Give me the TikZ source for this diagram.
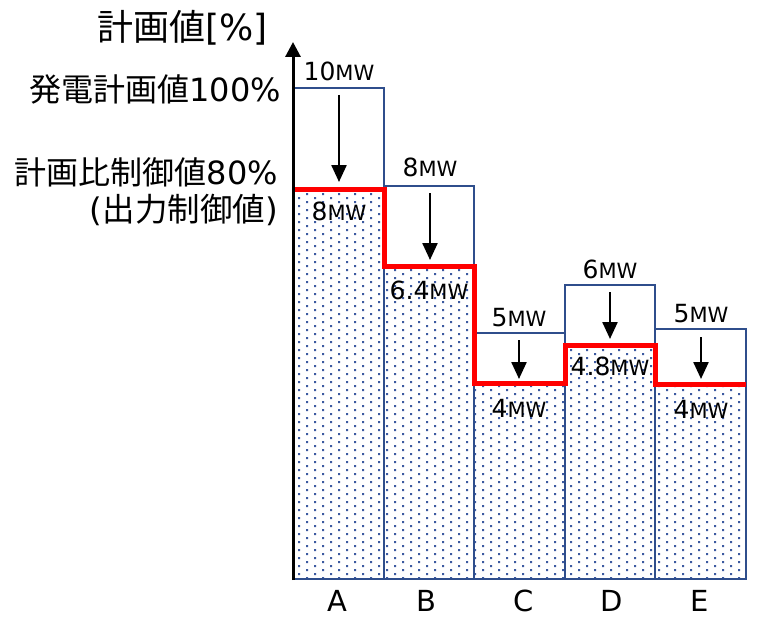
\documentclass[tikz,border=0pt]{standalone}
\usepackage{fontspec}
\setmainfont{DejaVu Sans}
\newfontfamily\jp{Noto Sans CJK JP}
\usetikzlibrary{arrows.meta}
\definecolor{barblue}{RGB}{47,78,140}
\definecolor{dotblue}{RGB}{60,90,160}
\definecolor{cutred}{RGB}{255,0,0}
\newcommand{\mwu}{{\fontsize{21}{21}\selectfont MW}}
\tikzset{
  bar/.style={draw=barblue, line width=2pt},
  cut/.style={-{Triangle[width=15pt,length=17pt]}, line width=2.4pt, black},
  mw/.style={font=\fontsize{25}{25}\selectfont, inner sep=0pt, anchor=center},
  jl/.style={font=\fontsize{32}{32}\selectfont, inner sep=0pt, anchor=east},
  cat/.style={font=\fontsize{29}{29}\selectfont, inner sep=0pt, anchor=center},
  redline/.style={draw=cutred, line width=5pt}
}
\begin{document}
\begin{tikzpicture}[x=1pt,y=-1pt]
\useasboundingbox (0,0) rectangle (758,618);
% dotted fills (staggered dot screen)
\begin{scope}
\clip (293,189) -- (384,189) -- (384,266) -- (474,266) -- (474,383)
  -- (565,383) -- (565,345) -- (655,345) -- (655,384) -- (746,384)
  -- (746,579) -- (293,579) -- cycle;
\fill[dotblue] \foreach \yy [evaluate=\yy as \off using {2*mod(\yy-193,8)}] in {193,197,...,579} {
  \foreach \xx in {290,306,...,746} {(\xx+\off,\yy) rectangle +(2,2)}};
\end{scope}
% bar outlines
\draw[bar] (293,88) rectangle (384,579);
\draw[bar] (384,186) rectangle (474,579);
\draw[bar] (474,333) rectangle (565,579);
\draw[bar] (565,285) rectangle (655,579);
\draw[bar] (655,329) rectangle (746,579);
% red control line
\draw[redline] (293,189) -- (384,189) -- (384,266) -- (474,266) -- (474,383)
  -- (565,383) -- (565,345) -- (655,345) -- (655,384) -- (746,384);
% axis
\coordinate (axb) at (293,580);
\coordinate (axt) at (293,42);
\draw[line width=3pt, -{Triangle[width=15pt,length=15pt]}] (axb) -- (axt);
% arrows
\coordinate (a1) at (339,95);  \coordinate (a2) at (339,182);
\coordinate (b1) at (430,193); \coordinate (b2) at (430,260);
\coordinate (c1) at (519,340); \coordinate (c2) at (519,379);
\coordinate (d1) at (610,292); \coordinate (d2) at (610,339);
\coordinate (e1) at (701,337); \coordinate (e2) at (701,379);
\draw[cut] (a1) -- (a2);
\draw[cut] (b1) -- (b2);
\draw[cut] (c1) -- (c2);
\draw[cut] (d1) -- (d2);
\draw[cut] (e1) -- (e2);
% MW labels
\node[mw] (la) at (339,71) {10\mwu};
\node[mw] (lb) at (430,167) {8\mwu};
\node[mw] (la2) at (339,211) {8\mwu};
\node[mw] (lb2) at (429,290) {6.4\mwu};
\node[mw] (lc) at (519,318) {5\mwu};
\node[mw] (lc2) at (519,408) {4\mwu};
\node[mw] (ld) at (610,269) {6\mwu};
\node[mw] (ld2) at (610,366) {4.8\mwu};
\node[mw] (le) at (701,314) {5\mwu};
\node[mw] (le2) at (701,409) {4\mwu};
% categories
\node[cat] (ca) at (337,601) {A};
\node[cat] (cb) at (426,601) {B};
\node[cat] (cc) at (524,601) {C};
\node[cat] (cd) at (612,601) {D};
\node[cat] (ce) at (700,601) {E};
% left labels
\node[jl, font=\fontsize{36}{36}\selectfont] (title) at (268,28) {{\jp 計画値}[\%]};
\node[jl] (p100) at (281,89) {{\jp 発電計画値}100\%};
\node[jl] (p80) at (278,172) {{\jp 計画比制御値}80\%};
\node[jl, font=\fontsize{32.5}{32.5}\selectfont] (pc) at (278,210) {({\jp 出力制御値})};
\end{tikzpicture}
\end{document}
